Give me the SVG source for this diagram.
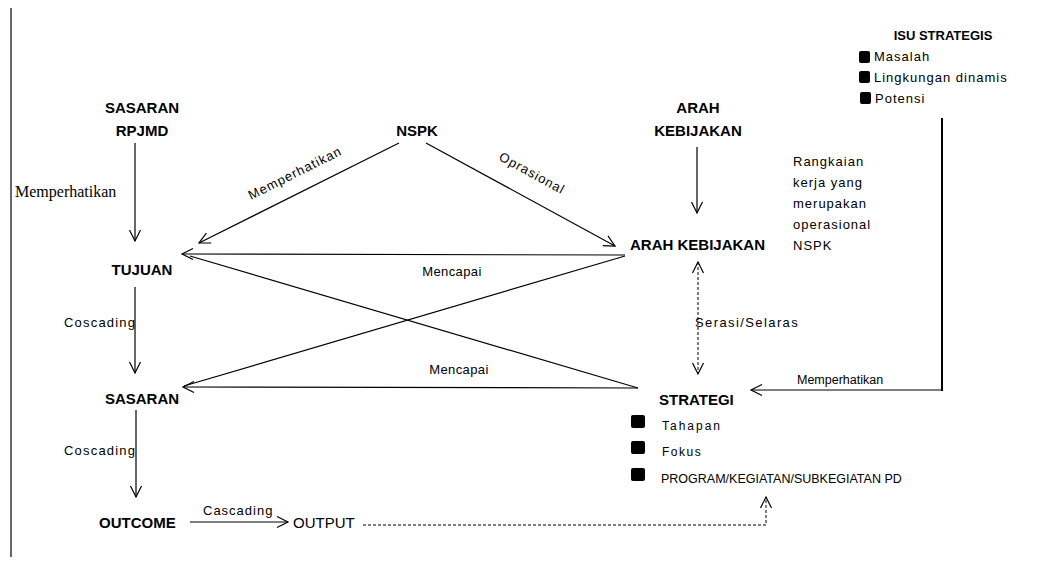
<svg xmlns="http://www.w3.org/2000/svg" width="1049" height="561" viewBox="0 0 1049 561">
<style>
text{font-family:"Liberation Sans",Arial,sans-serif;fill:#000}
.b{font-size:15px;font-weight:bold}
.s{font-size:13px}
.c{stroke:#000;stroke-width:1.2;fill:none}
.d{stroke:#000;stroke-width:1;fill:none;stroke-dasharray:3,2}
.bl{fill:#000}
</style>
<defs>
<marker id="ah" markerWidth="14" markerHeight="14" refX="12" refY="7" orient="auto-start-reverse" markerUnits="userSpaceOnUse">
<path d="M1,1.5 L12,7 L1,12.5" fill="none" stroke="#000" stroke-width="1.2"/>
</marker>
</defs>
<rect width="1049" height="561" fill="#fff"/>
<line x1="11" y1="8" x2="11" y2="557" stroke="#000" stroke-width="1.2"/>

<g id="connectors">
<line class="c" x1="135" y1="143" x2="135" y2="241" marker-end="url(#ah)"/>
<line class="c" x1="399" y1="143" x2="199" y2="243" marker-end="url(#ah)"/>
<line class="c" x1="426" y1="143" x2="615" y2="246" marker-end="url(#ah)"/>
<line class="c" x1="697" y1="147" x2="697" y2="213" marker-end="url(#ah)"/>
<line class="c" x1="625" y1="255" x2="182" y2="254" marker-end="url(#ah)"/>
<line class="c" x1="190" y1="256" x2="638" y2="388"/>
<line class="c" x1="625" y1="256" x2="184" y2="386"/>
<line class="c" x1="638" y1="388" x2="183" y2="387" marker-end="url(#ah)"/>
<line class="c" x1="135" y1="287" x2="135" y2="373" marker-end="url(#ah)"/>
<line class="c" x1="136" y1="410" x2="136" y2="497" marker-end="url(#ah)"/>
<line class="c" x1="190" y1="522" x2="288" y2="522" marker-end="url(#ah)"/>
<polyline class="d" points="363,525 766,525 766,497" marker-end="url(#ah)"/>
<line class="d" x1="698" y1="262" x2="698" y2="374" marker-start="url(#ah)" marker-end="url(#ah)"/>
<line x1="942" y1="118" x2="942" y2="391" stroke="#000" stroke-width="2"/>
<line class="c" x1="942" y1="390" x2="751" y2="390" marker-end="url(#ah)"/>
<text x="15" y="197" style="font-family:'Liberation Serif',serif;font-size:16px">Memperhatikan</text>
<text class="s" x="297" y="177" text-anchor="middle" letter-spacing="1" transform="rotate(-26.6 297 177)">Memperhatikan</text>
<text class="s" x="530" y="177" text-anchor="middle" letter-spacing="1" transform="rotate(28.6 530 177)">Oprasional</text>
<text class="s" x="452" y="276" text-anchor="middle" letter-spacing="0.4">Mencapai</text>
<text class="s" x="459" y="374" text-anchor="middle" letter-spacing="0.4">Mencapai</text>
<text class="s" x="64" y="327" letter-spacing="1.2">Coscading</text>
<text class="s" x="64" y="455" letter-spacing="1.2">Coscading</text>
<text class="s" x="203" y="515" letter-spacing="1">Cascading</text>
<text class="s" x="695" y="327" letter-spacing="1.4">Serasi/Selaras</text>
<text x="797" y="384" style="font-size:12.5px">Memperhatikan</text>
</g>

<g id="sasaran-rpjmd">
<text class="b" x="142" y="113" text-anchor="middle">SASARAN</text>
<text class="b" x="142" y="136" text-anchor="middle">RPJMD</text>
</g>
<g id="nspk"><text class="b" x="417" y="136" text-anchor="middle">NSPK</text></g>
<g id="arah-kebijakan-top">
<text class="b" x="698" y="113" text-anchor="middle">ARAH</text>
<text class="b" x="698" y="136" text-anchor="middle">KEBIJAKAN</text>
</g>
<g id="isu-strategis">
<text x="943" y="40" text-anchor="middle" style="font-size:13px;font-weight:bold">ISU STRATEGIS</text>
<rect class="bl" x="859" y="51" width="11" height="12" rx="2"/>
<text class="s" x="874" y="61" letter-spacing="1">Masalah</text>
<rect class="bl" x="859" y="71" width="11" height="12" rx="2"/>
<text class="s" x="874" y="82" letter-spacing="1">Lingkungan dinamis</text>
<rect class="bl" x="860" y="92" width="11" height="12" rx="2"/>
<text class="s" x="875" y="103" letter-spacing="1">Potensi</text>
</g>
<g id="rangkaian">
<text class="s" x="793" y="166" letter-spacing="1">Rangkaian</text>
<text class="s" x="793" y="187" letter-spacing="1">kerja yang</text>
<text class="s" x="793" y="208" letter-spacing="1">merupakan</text>
<text class="s" x="793" y="229" letter-spacing="1">operasional</text>
<text class="s" x="793" y="250" letter-spacing="1">NSPK</text>
</g>
<g id="tujuan"><text class="b" x="142" y="275" text-anchor="middle">TUJUAN</text></g>
<g id="arah-kebijakan"><text class="b" x="630" y="250">ARAH KEBIJAKAN</text></g>
<g id="sasaran"><text class="b" x="142" y="404" text-anchor="middle">SASARAN</text></g>
<g id="strategi">
<text class="b" x="659" y="405">STRATEGI</text>
<rect class="bl" x="631" y="415" width="14" height="13" rx="2"/>
<text x="662" y="430" style="font-size:12px" letter-spacing="2">Tahapan</text>
<rect class="bl" x="631" y="441" width="14" height="13" rx="2"/>
<text x="662" y="456" style="font-size:12px" letter-spacing="1.5">Fokus</text>
<rect class="bl" x="631" y="468" width="14" height="13" rx="2"/>
<text x="661" y="483" style="font-size:12.5px">PROGRAM/KEGIATAN/SUBKEGIATAN PD</text>
</g>
<g id="outcome"><text class="b" x="99" y="528">OUTCOME</text></g>
<g id="output"><text x="293" y="528" style="font-size:15px">OUTPUT</text></g>
</svg>
